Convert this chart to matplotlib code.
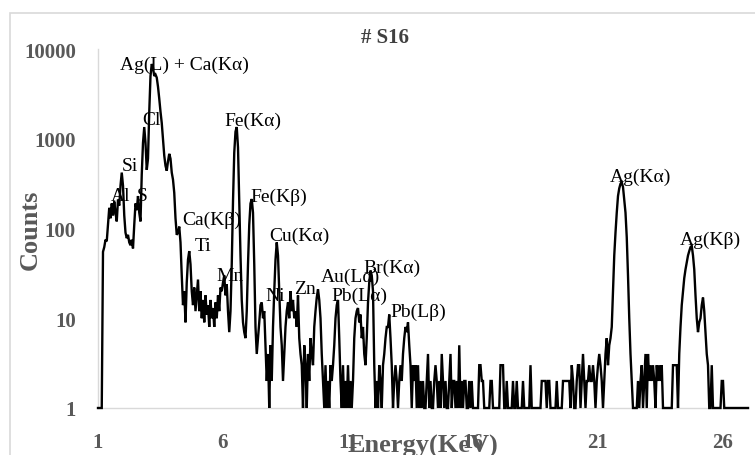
import numpy as np
import matplotlib
matplotlib.use("Agg")
import matplotlib.pyplot as plt
from matplotlib.patches import Rectangle

# ---- data: counts per 0.05 keV channel, starting at 1.00 keV ----
e_start = 1.0
e_step = 0.05
counts_01 = [1, 1, 1, 1, 55, 62, 75, 72, 110, 170, 130, 190, 140, 200, 150, 120, 210, 180, 300, 420]
counts_02 = [300, 140, 90, 78, 85, 70, 65, 75, 60, 110, 190, 160, 230, 150, 120, 400, 900, 1350, 900, 450]
counts_03 = [600, 2000, 5000, 6800, 6200, 5000, 5200, 4800, 3800, 2800, 2000, 1500, 1000, 650, 500, 440, 560, 680, 600, 420]
counts_04 = [350, 250, 130, 85, 90, 105, 70, 30, 14, 20, 9, 25, 45, 56, 40, 20, 14, 22, 12, 18]
counts_05 = [27, 12, 20, 10, 16, 9, 18, 11, 14, 8, 16, 10, 13, 8, 15, 10, 18, 12, 22, 20]
counts_06 = [25, 30, 18, 24, 12, 7, 12, 40, 200, 700, 1200, 1350, 800, 200, 50, 16, 9, 7, 6, 12]
counts_07 = [40, 110, 190, 213, 150, 40, 8, 4, 6, 9, 14, 15, 10, 12, 5, 2, 4, 1, 5, 2]
counts_08 = [8, 20, 45, 70, 50, 20, 8, 5, 2, 4, 8, 12, 15, 10, 20, 12, 16, 10, 12, 8]
counts_09 = [18, 6, 4, 3, 1, 5, 3, 1, 4, 2, 6, 4, 3, 8, 12, 17, 21, 16, 10, 4]
counts_10 = [2, 1, 3, 1, 2, 1, 3, 2, 3, 5, 10, 14, 16, 6, 2, 1, 3, 1, 2, 1]
counts_11 = [3, 1, 2, 1, 2, 6, 10, 12, 13, 9, 11, 6, 8, 4, 3, 6, 15, 25, 34, 30]
counts_12 = [20, 3, 1, 2, 1, 3, 2, 1, 3, 4, 6, 8, 8, 11, 6, 3, 1, 2, 3, 2]
counts_13 = [1, 2, 3, 2, 4, 6, 8, 7, 9, 5, 3, 1, 3, 2, 3, 1, 3, 1, 2, 1]
counts_14 = [2, 1, 1, 2, 4, 1, 2, 1, 1, 2, 3, 2, 1, 2, 1, 4, 2, 1, 2, 1]
counts_15 = [1, 2, 4, 1, 2, 2, 1, 2, 1, 5, 1, 2, 1, 2, 2, 1, 1, 2, 1, 2]
counts_16 = [1, 1, 1, 1, 1, 3, 3, 2, 2, 1, 1, 1, 1, 1, 2, 2, 1, 1, 1, 1]
counts_17 = [1, 1, 3, 3, 3, 1, 1, 2, 1, 1, 1, 1, 2, 1, 1, 2, 1, 1, 1, 1]
counts_18 = [2, 1, 1, 1, 1, 1, 3, 1, 1, 1, 1, 1, 1, 1, 1, 2, 2, 2, 2, 1]
counts_19 = [2, 2, 1, 1, 1, 1, 1, 2, 1, 1, 1, 1, 2, 2, 2, 2, 2, 2, 1, 3]
counts_20 = [2, 1, 1, 2, 3, 3, 1, 2, 4, 2, 1, 2, 2, 3, 2, 2, 3, 2, 1, 2]
counts_21 = [3, 4, 3, 2, 1, 2, 4, 6, 3, 5, 6, 8, 20, 50, 90, 150, 230, 280, 315, 327]
counts_22 = [290, 210, 150, 80, 30, 10, 4, 2, 1, 1, 1, 1, 2, 1, 2, 3, 1, 2, 4, 1]
counts_23 = [4, 2, 3, 2, 3, 2, 1, 3, 2, 3, 2, 3, 1, 1, 1, 1, 1, 1, 1, 1]
counts_24 = [3, 3, 3, 3, 1, 4, 8, 14, 20, 28, 35, 42, 50, 56, 62, 64, 50, 35, 18, 10]
counts_25 = [7, 9, 10, 14, 17, 12, 7, 4, 3, 1, 1, 3, 1, 1, 1, 1, 1, 1, 1, 2]
counts_26 = [2, 1, 1, 1, 1, 1, 1, 1, 1, 1, 1, 1, 1, 1, 1, 1, 1, 1, 1, 1]
counts_27 = [1]

x_ticks = [1, 6, 11, 16, 21, 26]
y_ticks = [1, 10, 100, 1000, 10000]
y_tick_labels = ["1", "10", "100", "1000", "10000"]

peak_names = ["Ag(L) + Ca(Kα)", "Cl", "Si", "Al", "S", "Fe(Kα)", "Fe(Kβ)",
              "Ca(Kβ)", "Ti", "Mn", "Cu(Kα)", "Ni", "Zn", "Au(Lα)", "Pb(Lα)",
              "Br(Kα)", "Pb(Lβ)", "Ag(Kα)", "Ag(Kβ)"]
# label anchor positions (energy, counts)
label_x = [4.44, 3.12, 2.28, 1.92, 2.76, 7.20, 8.24, 5.56, 5.20, 6.28, 9.04,
           8.08, 9.28, 11.08, 11.44, 12.76, 13.80, 22.68, 25.48]
label_y = [6810, 1618, 500, 236, 236, 1589, 230, 128, 64.7, 29.8, 83,
           17.8, 21.2, 29.6, 17.8, 37.2, 11.8, 384, 76.4]

counts = np.array(counts_01 + counts_02 + counts_03 + counts_04 + counts_05 +
                  counts_06 + counts_07 + counts_08 + counts_09 + counts_10 +
                  counts_11 + counts_12 + counts_13 + counts_14 + counts_15 +
                  counts_16 + counts_17 + counts_18 + counts_19 + counts_20 +
                  counts_21 + counts_22 + counts_23 + counts_24 + counts_25 +
                  counts_26 + counts_27, dtype=float)
energy = e_start + e_step * np.arange(len(counts))

plt.rcParams['font.family'] = ['Liberation Serif', 'DejaVu Serif']
gray = '#595959'

fig = plt.figure(figsize=(7.55, 4.56), dpi=100)
ax = fig.add_axes([98 / 755, 1 - 409 / 456, 650 / 755, 359 / 456])

ax.plot(energy, counts, color='black', lw=1.7, zorder=3, clip_on=False,
        solid_joinstyle='miter')
ax.set_yscale('log')
ax.set_xlim(1, 27)
ax.set_ylim(1, 10000)
ax.set_yticks(y_ticks)
ax.set_yticklabels(y_tick_labels)
ax.yaxis.set_minor_locator(matplotlib.ticker.NullLocator())
ax.set_xticks(x_ticks)
ax.set_xticklabels([str(t) for t in x_ticks])
ax.tick_params(length=0, labelsize=15, labelcolor=gray)
ax.tick_params(axis='y', pad=16)
ax.tick_params(axis='x', pad=17)
for lab in ax.get_xticklabels() + ax.get_yticklabels():
    lab.set_fontweight('bold')

for s in ['top', 'right']:
    ax.spines[s].set_visible(False)
for s in ['left', 'bottom']:
    ax.spines[s].set_color('#d9d9d9')
    ax.spines[s].set_linewidth(1.0)

ax.set_xlabel('Energy(KeV)', fontsize=19, fontweight='bold', color=gray)
ax.xaxis.set_label_coords(0.5, (409 - 446) / 359)
ax.xaxis.label.set_va('center')
ax.set_ylabel('Counts', fontsize=19, fontweight='bold', color=gray)
ax.yaxis.set_label_coords((30 - 98) / 650, 0.5)
ax.yaxis.label.set_va('center')

fig.text(385 / 755, 1 - 38 / 456, '# S16', fontsize=15, fontweight='bold',
         color='#404040', ha='center', va='center')

for name, lx, ly in zip(peak_names, label_x, label_y):
    ax.text(lx, ly, name, fontsize=14, color='black', ha='center',
            va='center', zorder=2)

fig.add_artist(Rectangle((10 / 755, -0.2), 1.2, 1 - 14 / 456 + 0.2,
                         transform=fig.transFigure, fill=False,
                         edgecolor='#d9d9d9', lw=1.2))

fig.savefig('out.png', dpi=100, facecolor='white')
